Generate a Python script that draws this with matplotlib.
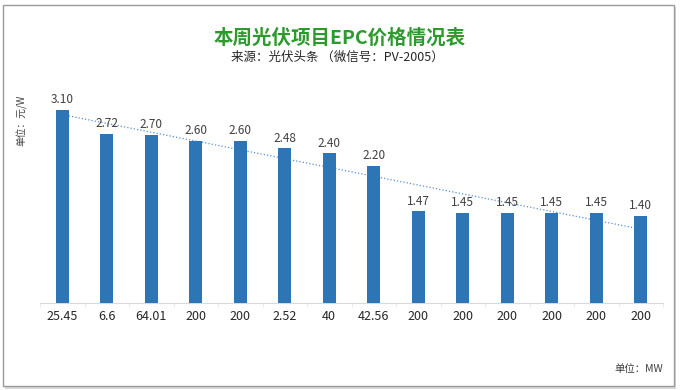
import numpy as np
import matplotlib.pyplot as plt
from matplotlib.patches import Rectangle

plt.rcParams['font.family'] = ['Noto Sans CJK SC', 'DejaVu Sans']

capacity = ['25.45', '6.6', '64.01', '200', '200', '2.52', '40', '42.56',
            '200', '200', '200', '200', '200', '200']
price = [3.10, 2.72, 2.70, 2.60, 2.60, 2.48, 2.40, 2.20,
         1.47, 1.45, 1.45, 1.45, 1.45, 1.40]

W, H = 682, 390
fig = plt.figure(figsize=(W / 100, H / 100), dpi=100)
fig.patch.set_facecolor('white')

# frame with a light shadow
fig.add_artist(Rectangle((5 / W, 1 - 389 / H), 671 / W, 382 / H, transform=fig.transFigure,
                         facecolor='#d9d9d9', edgecolor='none', zorder=0))
fig.add_artist(Rectangle((3 / W, 1 - 386 / H), 671 / W, 381 / H, transform=fig.transFigure,
                         facecolor='white', edgecolor='#9a9a9a', linewidth=1, zorder=0))

ax = fig.add_axes([40 / W, 1 - 303 / H, 623 / W, 223 / H])
ax.patch.set_alpha(0)
x = np.arange(len(price))
ax.bar(x, price, width=0.3, color='#2e75b6', zorder=3)

k, b = np.polyfit(x, price, 1)
ax.plot(x, k * x + b, linestyle=':', color='#5b8fd0', linewidth=0.9, zorder=2)

for xi, v in zip(x, price):
    ax.text(xi, v + 0.06, f'{v:.2f}', ha='center', va='bottom', fontsize=8.5, color='#404040', zorder=4)

ax.set_xlim(-0.5, len(price) - 0.5)
ax.set_ylim(0, 223 / 62.3)
ax.set_yticks([])
ax.set_xticks(x)
ax.set_xticklabels(capacity, fontsize=9, color='#262626')
ax.set_xticks(np.arange(-0.5, len(price), 1), minor=True)
ax.tick_params(axis='x', which='major', length=0, pad=5)
ax.tick_params(axis='x', which='minor', length=3, color='#e6e6e6')
for s in ['top', 'right', 'left']:
    ax.spines[s].set_visible(False)
ax.spines['bottom'].set_color('#d9d9d9')

fig.text(340 / W, 1 - 38 / H, '本周光伏项目EPC价格情况表', ha='center', va='center',
         fontsize=14, fontweight='bold', color='#2e9a2e')
fig.text(337 / W, 1 - 57 / H, '来源：光伏头条 （微信号：PV-2005）', ha='center', va='center',
         fontsize=9, color='#262626')
fig.text(22 / W, 1 - 120 / H, '单位：元/W', ha='center', va='center', rotation=90,
         fontsize=7, color='#404040')
fig.text(663 / W, 1 - 369 / H, '单位：MW', ha='right', va='center',
         fontsize=7.5, color='#404040')

fig.savefig('out.png', dpi=100)
